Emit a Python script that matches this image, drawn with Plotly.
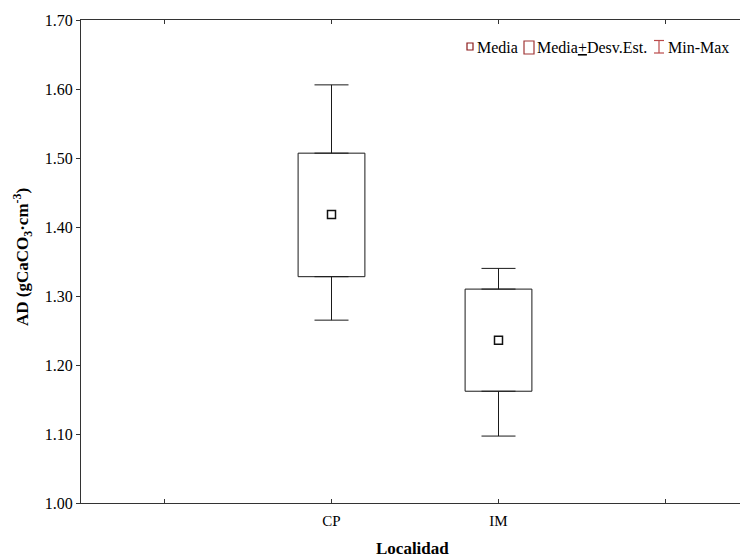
import plotly.graph_objects as go

# ---- data ----
categories = ["CP", "IM"]
media = [1.418, 1.236]
media_menos_de = [1.328, 1.162]
media_mas_de = [1.507, 1.310]
minimo = [1.265, 1.097]
maximo = [1.606, 1.340]

y_ticks = [1.00, 1.10, 1.20, 1.30, 1.40, 1.50, 1.60, 1.70]

FONT = "Liberation Serif"
W, H = 740, 558
ML, MR, MT, MB = 81, 0, 20, 55
PW, PH = W - ML - MR, H - MT - MB

def px(x):
    return (x - ML) / PW

def py(y):
    return (H - MB - y) / PH

xpos = [i + 1 for i in range(len(categories))]
box_h = [hi - lo for lo, hi in zip(media_menos_de, media_mas_de)]
upper_len = [mx - hi for hi, mx in zip(media_mas_de, maximo)]
lower_len = [lo - mn for lo, mn in zip(media_menos_de, minimo)]

LC = "#1a1a1a"
fig = go.Figure()
# box (mean +/- SD)
fig.add_trace(go.Bar(
    x=xpos, base=media_menos_de, y=box_h, width=0.4,
    marker=dict(color="white", line=dict(color=LC, width=1)),
    showlegend=False, hoverinfo="skip",
))
# whiskers (min-max)
fig.add_trace(go.Scatter(
    x=xpos, y=media_mas_de, mode="markers", marker=dict(size=1, opacity=0),
    error_y=dict(type="data", symmetric=False, array=upper_len, arrayminus=[0] * len(xpos),
                 color=LC, thickness=1, width=17),
    showlegend=False, hoverinfo="skip",
))
fig.add_trace(go.Scatter(
    x=xpos, y=media_menos_de, mode="markers", marker=dict(size=1, opacity=0),
    error_y=dict(type="data", symmetric=False, array=[0] * len(xpos), arrayminus=lower_len,
                 color=LC, thickness=1, width=17),
    showlegend=False, hoverinfo="skip",
))
# mean
fig.add_trace(go.Scatter(
    x=xpos, y=media, mode="markers",
    marker=dict(symbol="square-open", size=8, color="#111111", line=dict(width=1.5)),
    showlegend=False, hoverinfo="skip",
))

# ---- custom legend ----
red1 = "#8B1A1A"
red2 = "#A03535"
red3 = "#BB4A4A"
shapes = [
    dict(type="rect", xref="paper", yref="paper", x0=px(467), x1=px(473), y0=py(50), y1=py(43),
         line=dict(color=red1, width=1.2), fillcolor="white"),
    dict(type="rect", xref="paper", yref="paper", x0=px(524), x1=px(534), y0=py(54), y1=py(41),
         line=dict(color=red2, width=1.2), fillcolor="white"),
    dict(type="line", xref="paper", yref="paper", x0=px(654), x1=px(664), y0=py(40.5), y1=py(40.5),
         line=dict(color=red3, width=1.2)),
    dict(type="line", xref="paper", yref="paper", x0=px(654), x1=px(664), y0=py(53), y1=py(53),
         line=dict(color=red3, width=1.2)),
    dict(type="line", xref="paper", yref="paper", x0=px(659), x1=px(659), y0=py(40.5), y1=py(53),
         line=dict(color=red3, width=1.2)),
]
legend_font = dict(family=FONT, size=16, color="black")
annotations = [
    dict(text="Media", x=px(475), y=py(47), xref="paper", yref="paper",
         xanchor="left", yanchor="middle", showarrow=False, font=legend_font),
    dict(text="Media<u>+</u>Desv.Est.", x=px(535), y=py(47), xref="paper", yref="paper",
         xanchor="left", yanchor="middle", showarrow=False, font=legend_font),
    dict(text="Min-Max", x=px(666), y=py(47), xref="paper", yref="paper",
         xanchor="left", yanchor="middle", showarrow=False, font=legend_font),
    # axis titles
    dict(text="<b>AD (gCaCO<sub>3</sub>·cm<sup>-3</sup>)</b>", x=px(22), y=py(257),
         xref="paper", yref="paper", textangle=-90, xanchor="center", yanchor="middle",
         showarrow=False, font=dict(family=FONT, size=17, color="black")),
    dict(text="<b>Localidad</b>", x=px(412), y=py(548), xref="paper", yref="paper",
         xanchor="center", yanchor="middle", showarrow=False,
         font=dict(family=FONT, size=17, color="black")),
]

fig.update_layout(
    width=W, height=H,
    margin=dict(l=ML, r=MR, t=MT, b=MB, pad=0),
    paper_bgcolor="white", plot_bgcolor="white",
    font=dict(family=FONT, size=15, color="black"),
    shapes=shapes, annotations=annotations,
    showlegend=False, barmode="overlay",
)
fig.update_xaxes(
    range=[-0.5, -0.5 + PW / 167.0],
    tickvals=xpos, ticktext=categories,
    ticks="inside", ticklen=4, tickcolor="#333", tickwidth=1,
    minor=dict(tickmode="array", tickvals=[0, len(categories) + 1], ticks="inside",
               ticklen=4, tickcolor="#333", tickwidth=1, showgrid=False),
    showline=True, linecolor="#333", linewidth=1.2, mirror="ticks",
    showgrid=False, zeroline=False, ticklabelstandoff=4,
    tickfont=dict(family=FONT, size=15, color="black"),
)
fig.update_yaxes(
    range=[1.0, 1.7],
    tickvals=y_ticks, ticktext=[f"{v:.2f}" for v in y_ticks],
    ticks="outside", ticklen=4, tickcolor="#333", tickwidth=1,
    showline=True, linecolor="#333", linewidth=1.2, mirror=False,
    showgrid=False, zeroline=False,
    tickfont=dict(family=FONT, size=16, color="black"),
)

fig.write_html("out.html")
